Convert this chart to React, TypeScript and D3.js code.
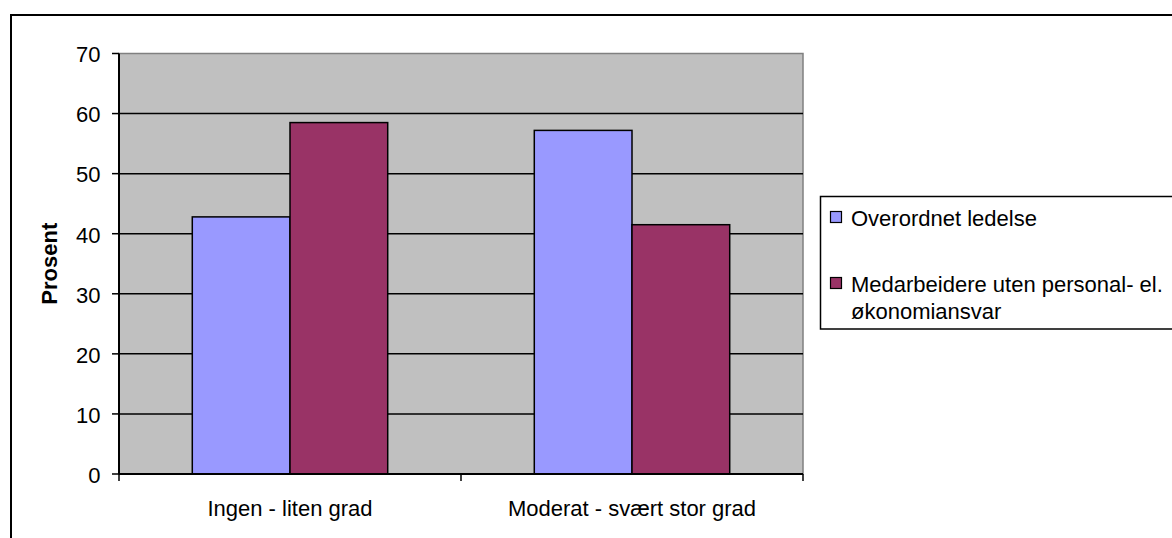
import React from "react";
import * as d3 from "d3";

const categories = ["Ingen - liten grad", "Moderat - svært stor grad"];
const seriesNames = ["Overordnet ledelse", "Medarbeidere uten personal- el. økonomiansvar"];
const overordnet = [42.8, 57.2];
const medarbeidere = [58.5, 41.5];
const yTicks = [0, 10, 20, 30, 40, 50, 60, 70];
const seriesColors = ["#9999FF", "#993366"];

const W = 1172;
const H = 538;
const FONT = "'Liberation Sans', Arial, sans-serif";

export default function App() {
  const plot = { left: 119, right: 803, top: 53.5, bottom: 474 };
  const y = d3.scaleLinear().domain([0, 70]).range([plot.bottom, plot.top]);
  const x = d3.scaleBand<string>().domain(categories).range([plot.left, plot.right]).padding(0);
  // Excel-style 150% gap width: two bars plus 1.5 bar widths per category
  const barW = x.bandwidth() / 3.5;
  const inner = d3
    .scaleBand<string>()
    .domain(seriesNames)
    .range([0, barW * 2]);
  const values = [overordnet, medarbeidere];

  const legendX = 820.5;
  const legendY = 196.5;

  return (
    <svg
      width={W}
      height={H}
      style={{ position: "absolute", left: 0, top: 0, display: "block" }}
      fontFamily={FONT}
    >
      <rect x={0} y={0} width={W} height={H} fill="#fff" />
      {/* chart area border */}
      <rect x={11} y={15} width={W + 20} height={H + 20} fill="none" stroke="#000" strokeWidth={2} />

      {/* plot area */}
      <rect
        x={plot.left}
        y={plot.top}
        width={plot.right - plot.left}
        height={plot.bottom - plot.top}
        fill="#C0C0C0"
        stroke="#808080"
        strokeWidth={1.5}
      />

      {/* gridlines */}
      {yTicks
        .filter((t) => t > 0 && t < 70)
        .map((t) => (
          <line key={"g" + t} x1={plot.left} x2={plot.right} y1={y(t)} y2={y(t)} stroke="#000" strokeWidth={1.5} />
        ))}

      {/* bars */}
      {categories.map((c, ci) => {
        const gx = (x(c) ?? 0) + (x.bandwidth() - barW * 2) / 2;
        return seriesNames.map((s, si) => {
          const v = values[si][ci];
          return (
            <rect
              key={c + s}
              x={gx + (inner(s) ?? 0)}
              y={y(v)}
              width={inner.bandwidth()}
              height={y(0) - y(v)}
              fill={seriesColors[si]}
              stroke="#000"
              strokeWidth={1.5}
            />
          );
        });
      })}

      {/* y axis */}
      <line x1={plot.left} x2={plot.left} y1={plot.top} y2={plot.bottom} stroke="#000" strokeWidth={2} />
      {yTicks.map((t) => (
        <g key={"y" + t}>
          <line x1={plot.left - 7} x2={plot.left} y1={y(t)} y2={y(t)} stroke="#000" strokeWidth={1.5} />
          <text x={100.5} y={y(t)} dy="0.4em" textAnchor="end" fontSize={22} fill="#000">
            {t}
          </text>
        </g>
      ))}

      {/* x axis */}
      <line x1={plot.left} x2={plot.right} y1={plot.bottom} y2={plot.bottom} stroke="#000" strokeWidth={2} />
      {[...categories.map((c) => x(c) ?? 0), plot.right].map((px, i) => (
        <line key={"xt" + i} x1={px} x2={px} y1={plot.bottom} y2={plot.bottom + 7} stroke="#000" strokeWidth={1.5} />
      ))}
      {categories.map((c) => (
        <text
          key={"xl" + c}
          x={(x(c) ?? 0) + x.bandwidth() / 2}
          y={516}
          textAnchor="middle"
          fontSize={22}
          fill="#000"
        >
          {c}
        </text>
      ))}

      {/* y axis title */}
      <text
        transform={`translate(${57},${y(35)}) rotate(-90)`}
        textAnchor="middle"
        fontSize={22}
        fontWeight="bold"
        fill="#000"
      >
        Prosent
      </text>

      {/* legend */}
      <rect x={legendX} y={legendY} width={W} height={132.5} fill="#fff" stroke="#000" strokeWidth={1.5} />
      <rect x={830.5} y={211.5} width={11} height={11} fill={seriesColors[0]} stroke="#000" strokeWidth={1.2} />
      <text x={851} y={226} fontSize={22} fill="#000">
        {seriesNames[0]}
      </text>
      <rect x={830.5} y={277.5} width={11} height={11} fill={seriesColors[1]} stroke="#000" strokeWidth={1.2} />
      <text x={851} y={292} fontSize={22} fill="#000">
        Medarbeidere uten personal- el.
      </text>
      <text x={851} y={319} fontSize={22} fill="#000">
        økonomiansvar
      </text>
    </svg>
  );
}
